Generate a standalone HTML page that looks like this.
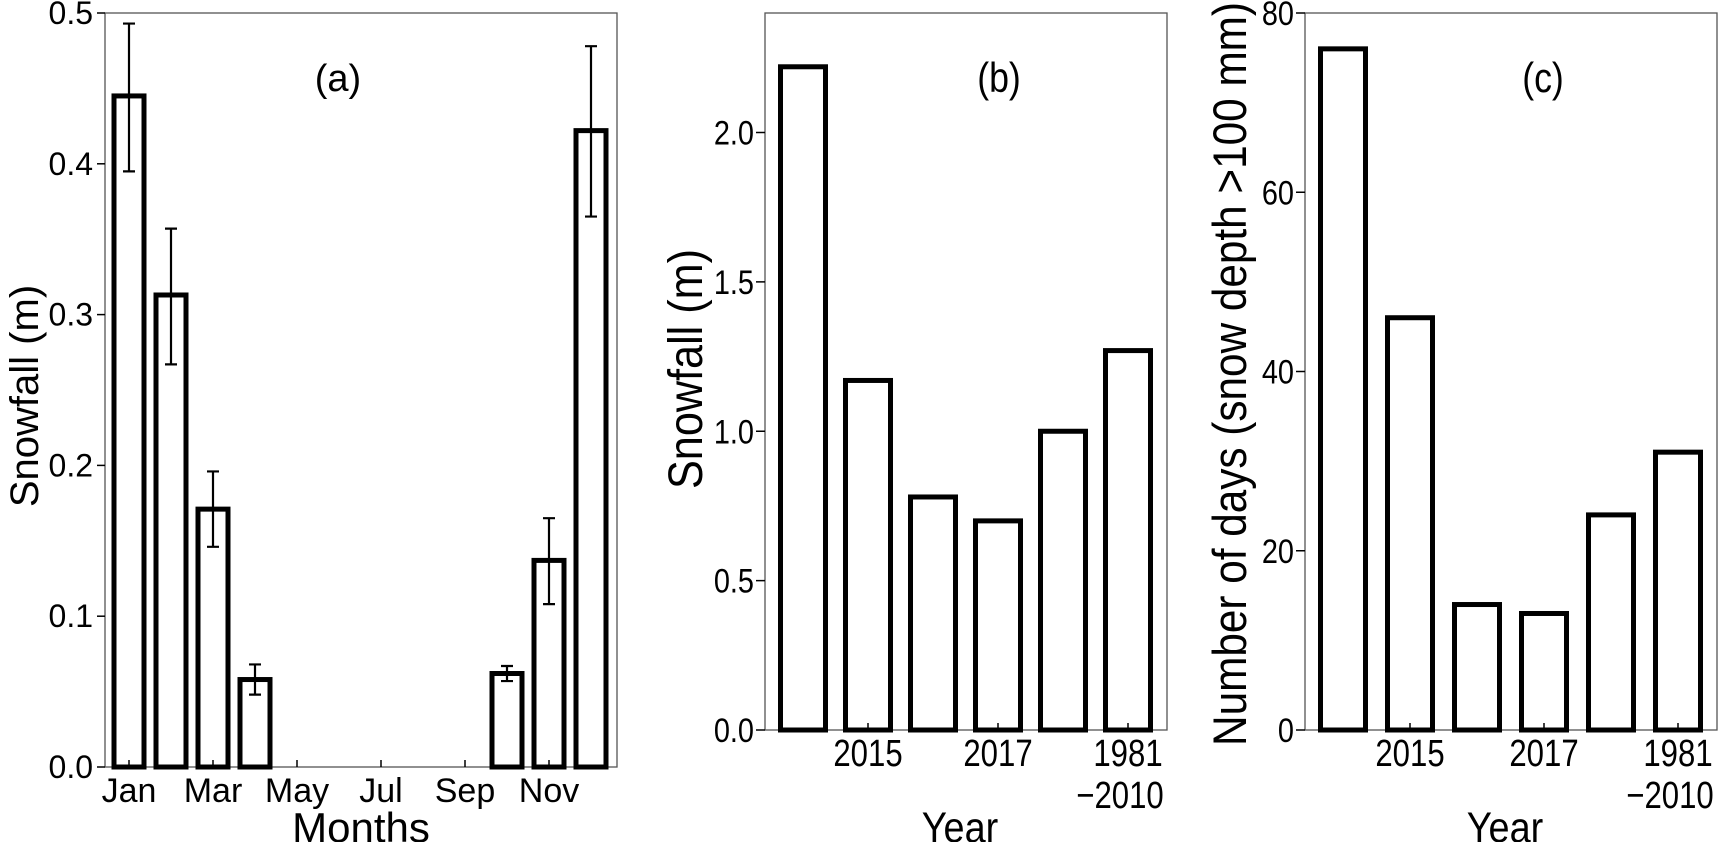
<!DOCTYPE html>
<html><head><meta charset="utf-8"><style>
html,body{margin:0;padding:0;background:#fff;}
svg{display:block;font-family:"Liberation Sans",sans-serif;}
</style></head><body>
<svg id="fig" width="1725" height="842" viewBox="0 0 1725 842" xmlns="http://www.w3.org/2000/svg"></svg>
<script>
const months = ["Jan","Feb","Mar","Apr","May","Jun","Jul","Aug","Sep","Oct","Nov","Dec"];
const monthlySnow = [0.445,0.313,0.171,0.058,0,0,0,0,0,0.062,0.137,0.422];
const monthlyLow = [0.395,0.267,0.146,0.048,0,0,0,0,0,0.057,0.108,0.365];
const monthlyHigh = [0.493,0.357,0.196,0.068,0,0,0,0,0,0.067,0.165,0.478];
const monthTickLabels = ["Jan","Mar","May","Jul","Sep","Nov"];
const aYTicks = [0,0.1,0.2,0.3,0.4,0.5];
const years = ["2014","2015","2016","2017","2018","1981-2010"];
const yearSnow = [2.22,1.17,0.78,0.70,1.00,1.27];
const bYTicks = [0,0.5,1.0,1.5,2.0];
const yearDays = [76,46,14,13,24,31];
const cYTicks = [0,20,40,60,80];

const NS="http://www.w3.org/2000/svg";
const svg=document.getElementById('fig');
function mk(tag,attrs,parent){const e=document.createElementNS(NS,tag);for(const k in attrs)e.setAttribute(k,attrs[k]);(parent||svg).appendChild(e);return e;}
function txt(s,attrs,parent){const e=mk('text',attrs,parent);e.textContent=s;return e;}

// ---------- Panel (a) ----------
const A={l:105,r:617,t:13,b:767,c0:129,sp:42,max:0.5};
const ay=v=>A.b-(A.b-A.t)*v/A.max;
const ax=i=>A.c0+A.sp*i;
const ga=mk('g',{});


let fr=mk('rect',{x:A.l,y:A.t,width:A.r-A.l,height:A.b-A.t,fill:'none',stroke:'#555','stroke-width':1.3},ga);

months.forEach((m,i)=>{
  const x=ax(i), w=30, y=ay(monthlySnow[i]);
  const r=mk('rect',{x:x-w/2,y:y,width:w,height:A.b-y,fill:'#fff',stroke:'#000','stroke-width':5},ga);
  
  
  if(monthlySnow[i]>0){
    const e=mk('path',{d:`M${x-6} ${ay(monthlyHigh[i])}H${x+6}M${x} ${ay(monthlyHigh[i])}V${ay(monthlyLow[i])}M${x-6} ${ay(monthlyLow[i])}H${x+6}`,stroke:'#000','stroke-width':2.2,fill:'none'},ga);
    
    
  }
});
months.forEach((m,i)=>{
  if(monthTickLabels.indexOf(m)<0) return;
  mk('line',{x1:ax(i),x2:ax(i),y1:A.b,y2:A.b-7,stroke:'#000','stroke-width':1.5},ga);
  const t=txt(m,{x:ax(i),y:802,'text-anchor':'middle','font-size':34},ga);
  
});
aYTicks.forEach(v=>{
  mk('line',{x1:A.l,x2:A.l-8,y1:ay(v),y2:ay(v),stroke:'#000','stroke-width':1.5},ga);
  const t=txt(v.toFixed(1),{x:A.l-12,y:ay(v)+11,'text-anchor':'end','font-size':32},ga);
  
});
let t=txt('(a)',{x:338,y:91,'text-anchor':'middle','font-size':38},ga);

t=txt('Months',{x:361,y:842,'text-anchor':'middle','font-size':42},ga);

t=txt('Snowfall (m)',{x:0,y:0,'text-anchor':'middle','font-size':40,transform:'translate(38,396) rotate(-90)'},ga);


// ---------- generic year panels ----------
function yearPanel(P,vals,ticks,fmt,name,lab,labX,ytitle,ytX,ytY,xtitleX,ytSize){
  const g=mk('g',{});
  
  
  const py=v=>P.b-(P.b-P.t)*v/P.max;
  const px=i=>P.c0+P.sp*i;
  const f=mk('rect',{x:P.l,y:P.t,width:P.r-P.l,height:P.b-P.t,fill:'none',stroke:'#555','stroke-width':1.3},g);
  
  vals.forEach((v,i)=>{
    const w=45,y=py(v);
    const r=mk('rect',{x:px(i)-w/2,y:y,width:w,height:P.b-y,fill:'#fff',stroke:'#000','stroke-width':5},g);
    
    
  });
  years.forEach((yr,i)=>{
    if(i%2===0) return;
    mk('line',{x1:px(i),x2:px(i),y1:P.b,y2:P.b-7,stroke:'#000','stroke-width':1.5},g);
    const lines = yr.indexOf('-')>0 ? [yr.split('-')[0],'\u2212'+yr.split('-')[1]] : [yr];
    lines.forEach((s,k)=>{
      const tt=txt(s,{x:0,y:0,'text-anchor':'middle','font-size':38,transform:`translate(${px(i)+(k?-8:0)},${P.b+36+k*42}) scale(0.82,1)`},g);
      
    });
  });
  ticks.forEach(v=>{
    mk('line',{x1:P.l,x2:P.l-9,y1:py(v),y2:py(v),stroke:'#000','stroke-width':1.5},g);
    const tt=txt(fmt(v),{x:0,y:0,'text-anchor':'end','font-size':34,transform:`translate(${P.l-11},${py(v)+12}) scale(0.85,1)`},g);
    
  });
  let a=txt(lab,{x:0,y:0,'text-anchor':'middle','font-size':42,transform:`translate(${labX},92) scale(0.85,1)`},g);
  
  a=txt('Year',{x:0,y:0,'text-anchor':'middle','font-size':43,transform:`translate(${xtitleX},842) scale(0.88,1)`},g);
  
  a=txt(ytitle,{x:0,y:0,'text-anchor':'middle','font-size':ytSize,transform:`translate(${ytX},${ytY}) rotate(-90) scale(0.9,1)`},g);
  
}
yearPanel({l:765,r:1167,t:13,b:730,c0:803,sp:65,max:2.4},yearSnow,bYTicks,v=>v.toFixed(1),'panel-b','(b)',999,'Snowfall (m)',702,369,960,48);
yearPanel({l:1305,r:1717,t:13,b:730,c0:1343,sp:67,max:80},yearDays,cYTicks,v=>String(v),'panel-c','(c)',1543,'Number of days (snow depth >100 mm)',1246,374,1505,47);
</script>
</body></html>
